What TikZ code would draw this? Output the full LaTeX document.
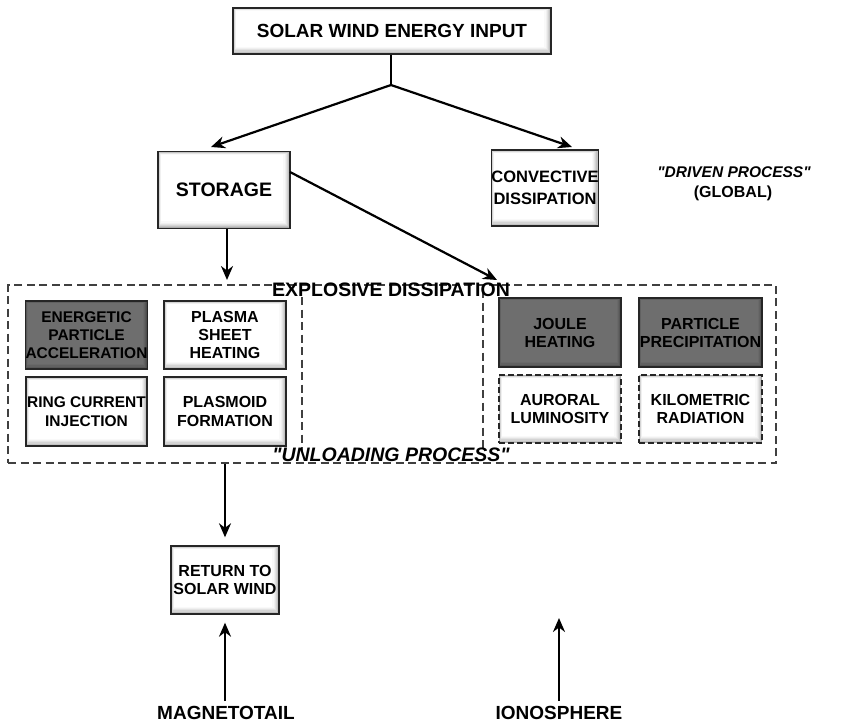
\documentclass[tikz,border=0pt]{standalone}
\usepackage{fontspec}
\setmainfont{Liberation Sans}
\usetikzlibrary{arrows.meta}
\begin{document}
\begin{tikzpicture}[x=1pt,y=-1pt,
  txt/.style={font=\bfseries\fontsize{#1}{18}\selectfont, align=center, inner sep=0pt},
  itx/.style={font=\bfseries\itshape\fontsize{#1}{18}\selectfont, align=center, inner sep=0pt},
  bev/.style={draw=black!85, line width=1.4pt, fill=gray!65, minimum width=#1, inner sep=0pt,
    path picture={
      \foreach \i/\c in {1/48,2/34,3/22,4/12,5/5,6/0}{
        \fill[gray!\c] ([shift={(0.5*\i pt,-0.5*\i pt)}]path picture bounding box.north west)
          rectangle ([shift={(-1.1*\i pt,1.2*\i pt)}]path picture bounding box.south east);}
    }},
  dark/.style={draw=black!85, line width=1.4pt, fill=black!70, minimum width=#1, inner sep=0pt,
    path picture={
      \foreach \i/\c in {1/66,2/62,3/59,4/57}{
        \fill[black!\c] ([shift={(0.5*\i pt,-0.5*\i pt)}]path picture bounding box.north west)
          rectangle ([shift={(-1.1*\i pt,1.2*\i pt)}]path picture bounding box.south east);}
    }},
  dsh/.style={dash pattern=on 8pt off 4.5pt, line width=1.3pt, draw=black!75},
  arr/.style={line width=2.2pt, -{Stealth[length=14pt,width=12pt]}},
  ln/.style={line width=2.2pt}
]
\useasboundingbox (0,0) rectangle (863,725);

% top
\node[bev=318pt, minimum height=46pt, txt=19] (top) at (392,31) {SOLAR WIND ENERGY INPUT};
\node[bev=132pt, minimum height=77pt, txt=19.5] (stor) at (224,190) {STORAGE};
\node[bev=104pt, minimum height=76pt, txt=16.5] (conv) at (545,188) {CONVECTIVE\\[4pt]DISSIPATION};
\node[itx=15.5] (driven) at (734,172) {\textquotedbl DRIVEN PROCESS\textquotedbl};
\node[txt=16] (global) at (733,193) {(GLOBAL)};

\coordinate (j) at (391,85);
\coordinate (sa) at (211,147);
\coordinate (ca) at (572,147);
\draw[ln] (top.south -| j) -- (j);
\draw[arr] (j) -- (sa);
\draw[arr] (j) -- (ca);

% outer dashed group
\node[dsh, draw, minimum width=768pt, minimum height=178pt, inner sep=0pt] (outer) at (392,374) {};
\draw[dsh] (302,297) -- (302,452);
\draw[dsh] (483,290) -- (483,452);
\node[txt=19.5] (expl) at (391,290) {EXPLOSIVE DISSIPATION};
\node[itx=19.5] (unl) at (391,455) {\textquotedbl UNLOADING PROCESS\textquotedbl};

\coordinate (sd) at (227,280);
\coordinate (dd) at (497,280);
\draw[arr] (stor.south -| sd) -- (sd);
\draw[arr] (290,172) -- (dd);

% left group
\node[dark=121pt, minimum height=68pt, txt=15.5] (epa) at (86.5,335) {ENERGETIC\\PARTICLE\\ACCELERATION};
\node[bev=122pt, minimum height=68pt, txt=16] (psh) at (225,335) {PLASMA\\SHEET\\HEATING};
\node[bev=121pt, minimum height=69pt, txt=15.5] (rci) at (86.5,411.5) {RING CURRENT\\[1pt]INJECTION};
\node[bev=122pt, minimum height=69pt, txt=16] (pf) at (225,411.5) {PLASMOID\\[1pt]FORMATION};

% right group
\node[dark=122pt, minimum height=69pt, txt=16] (jh) at (560,332.5) {JOULE\\HEATING};
\node[dark=123pt, minimum height=69pt, txt=16] (pp) at (700.5,332.5) {PARTICLE\\PRECIPITATION};
\node[bev=122pt, minimum height=68pt, txt=16, dash pattern=on 6pt off 3pt] (al) at (560,409) {AURORAL\\LUMINOSITY};
\node[bev=123pt, minimum height=68pt, txt=16, dash pattern=on 6pt off 3pt] (kr) at (700.5,409) {KILOMETRIC\\RADIATION};

% bottom
\node[bev=108pt, minimum height=68pt, txt=16] (ret) at (225,580) {RETURN TO\\SOLAR WIND};
\node[txt=19] (mag) at (226,713) {MAGNETOTAIL};
\node[txt=19] (ion) at (559,713) {IONOSPHERE};
\coordinate (ia) at (559,618);
\draw[arr, shorten >=8pt] (outer.south -| ret) -- (ret.north);
\draw[arr, shorten >=8pt] ([yshift=5pt]mag.north -| ret) -- (ret.south);
\draw[arr] ([yshift=5pt]ion.north) -- (ia);
\end{tikzpicture}
\end{document}
